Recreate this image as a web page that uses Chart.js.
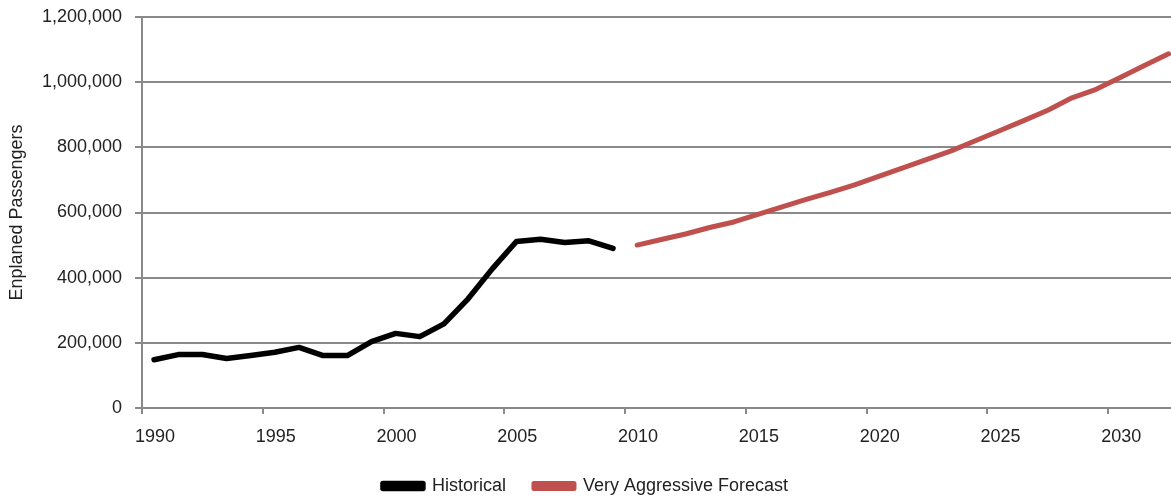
<!DOCTYPE html>
<html>
<head>
<meta charset="utf-8">
<script src="https://cdn.jsdelivr.net/npm/chart.js@4"></script>
<style>
  html, body { margin: 0; padding: 0; background: #fff; }
  #wrap { width: 1171px; height: 500px; }
</style>
</head>
<body>
<div id="wrap"><canvas id="myChart"></canvas></div>
<script>
// Enplaned passengers, historical and forecast
let histYears = [1990, 1991, 1992, 1993, 1994, 1995, 1996, 1997, 1998, 1999,
                 2000, 2001, 2002, 2003, 2004, 2005, 2006, 2007, 2008, 2009];
let histValues = [148000, 164000, 164000, 152000, 161000, 171000, 186000, 161000, 161000, 204000,
                  229000, 219000, 258000, 335000, 427000, 511000, 518000, 508000, 513000, 490000];

let fcstYears = [2010, 2011, 2012, 2013, 2014, 2015, 2016, 2017, 2018, 2019, 2020,
                 2021, 2022, 2023, 2024, 2025, 2026, 2027, 2028, 2029, 2030, 2031, 2032];
let fcstValues = [500000, 517000, 534000, 554000, 571000, 594000, 617000, 640000, 662000, 685000, 711000,
                  737000, 763000, 789000, 820000, 851000, 882000, 914000, 952000, 978000, 1014000, 1051000, 1087000];

let yTicks = [0, 200000, 400000, 600000, 800000, 1000000, 1200000];

let gray = '#898989';
let font = { family: '"Liberation Sans", Arial, sans-serif', size: 18 };

// each year sits in the middle of its slot on the axis
function points(years, values) {
    return years.map((y, i) => ({ x: y + 0.5, y: values[i] }));
}

let ctx = document.getElementById("myChart").getContext('2d');

let chart = new Chart(ctx, {
    type: 'line',
    data: {
        datasets: [{
                label: 'Historical',
                data: points(histYears, histValues),
                borderColor: '#000000',
                backgroundColor: '#000000',
                borderWidth: 5.5,
                borderCapStyle: 'round',
                borderJoinStyle: 'round',
                pointRadius: 0
            }, {
                label: 'Very Aggressive Forecast',
                data: points(fcstYears, fcstValues),
                borderColor: '#c0504d',
                backgroundColor: '#c0504d',
                borderWidth: 5,
                borderCapStyle: 'round',
                borderJoinStyle: 'round',
                pointRadius: 0
            }]
    },
    options: {
        responsive: true,
        maintainAspectRatio: false,
        animation: false,
        layout: { padding: { top: 0, right: 0, bottom: -5, left: 0 } },
        plugins: {
            tooltip: { enabled: false },
            legend: {
                position: 'bottom',
                labels: {
                    font: font,
                    color: '#222',
                    boxWidth: 40,
                    boxHeight: 5,
                    padding: 28
                }
            }
        },
        scales: {
            x: {
                type: 'linear',
                min: 1990,
                max: 2032.6,
                afterFit: s => { s.height = 41; },
                afterBuildTicks: s => {
                    s.ticks = [];
                    for (let v = 1990; v <= 2030; v += 5) s.ticks.push({ value: v });
                },
                ticks: {
                    font: font,
                    color: '#222',
                    padding: 12,
                    labelOffset: 13,
                    maxRotation: 0,
                    callback: v => String(v)
                },
                grid: {
                    drawOnChartArea: false,
                    drawTicks: true,
                    tickLength: 6,
                    color: gray,
                    lineWidth: 2
                },
                border: { color: gray, width: 2 }
            },
            y: {
                min: 0,
                max: 1200000,
                afterFit: s => { s.width = 142; s.paddingTop = 17; },
                afterBuildTicks: s => { s.ticks = yTicks.map(v => ({ value: v })); },
                ticks: {
                    font: font,
                    color: '#222',
                    padding: 13,
                    callback: v => v.toLocaleString('en-US')
                },
                grid: {
                    color: gray,
                    lineWidth: 2,
                    tickLength: 7
                },
                border: { color: gray, width: 2 },
                title: {
                    display: true,
                    text: 'Enplaned Passengers',
                    font: font,
                    color: '#222',
                    padding: { top: 6, bottom: 0 }
                }
            }
        }
    }
});
</script>
</body>
</html>
